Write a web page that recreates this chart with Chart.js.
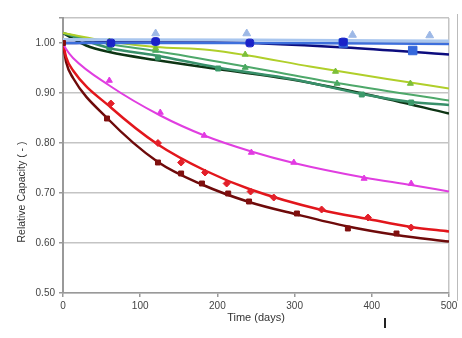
<!DOCTYPE html>
<html>
<head>
<meta charset="utf-8">
<script src="https://cdn.jsdelivr.net/npm/chart.js@4.4.0/dist/chart.umd.min.js"></script>
<style>
  body { margin: 0; background: #fff; }
  #wrap { position: relative; width: 462px; height: 338px; }
  #edge { position: absolute; left: 457px; top: 14px; width: 1px; height: 287px; background: #bbb; }
  #mark { position: absolute; left: 384px; top: 318px; width: 2px; height: 10px; background: #222; }
</style>
</head>
<body>
<div id="wrap">
  <canvas id="lineChart" width="462" height="338"></canvas>
  <div id="edge"></div>
  <div id="mark"></div>
</div>
<script>
const CHART = document.getElementById("lineChart");

// axis
var xTicks = [0, 100, 200, 300, 400, 500];
var yTicks = [0.5, 0.6, 0.7, 0.8, 0.9, 1.0];

// measured points
var darkRedDays = [0, 57, 123, 153, 180, 214, 241, 303, 369, 432];
var darkRedVals = [1.0, 0.849, 0.761, 0.739, 0.719, 0.699, 0.683, 0.659, 0.629, 0.619];
var redDays = [62, 123, 153, 184, 212, 243, 273, 335, 395, 451];
var redVals = [0.879, 0.80, 0.761, 0.741, 0.719, 0.703, 0.691, 0.667, 0.651, 0.631];
var magentaDays = [60, 126, 183, 244, 299, 390, 451];
var magentaVals = [0.925, 0.861, 0.815, 0.781, 0.761, 0.729, 0.719];
var yellowDays = [60, 120, 236, 353, 450];
var yellowVals = [1.003, 0.99, 0.977, 0.943, 0.919];
var greenDays = [60, 120, 236, 355];
var greenVals = [1.0, 0.985, 0.951, 0.919];
var tealDays = [60, 123, 201, 387, 451];
var tealVals = [0.99, 0.971, 0.949, 0.897, 0.881];
var navyDays = [62, 120, 242, 363];
var navyVals = [1.0, 1.003, 1.0, 1.002];
var blueDays = [363, 453];
var blueVals = [1.0, 0.985];
var lightDays = [120, 238, 375, 475];
var lightVals = [1.019, 1.019, 1.016, 1.015];

// fitted curves
var darkRedFitDays = [0, 4, 13, 57, 123, 180, 241, 303, 369, 432, 500];
var darkRedFitVals = [1.0, 0.962, 0.93, 0.85, 0.762, 0.717, 0.682, 0.657, 0.633, 0.616, 0.603];
var redFitDays = [0, 4, 13, 62, 123, 184, 243, 335, 395, 451, 500];
var redFitVals = [1.0, 0.972, 0.945, 0.871, 0.797, 0.745, 0.707, 0.666, 0.648, 0.632, 0.623];
var magentaFitDays = [0, 4, 13, 60, 126, 183, 244, 299, 390, 451, 500];
var magentaFitVals = [1.0, 0.988, 0.97, 0.915, 0.855, 0.815, 0.783, 0.76, 0.731, 0.716, 0.703];
var yellowFitDays = [0, 60, 120, 190, 240, 320, 420, 500];
var yellowFitVals = [1.02, 1.003, 0.992, 0.986, 0.975, 0.953, 0.928, 0.909];
var greenFitDays = [0, 60, 120, 240, 355, 500];
var greenFitVals = [1.02, 0.998, 0.984, 0.952, 0.92, 0.885];
var tealFitDays = [0, 60, 120, 200, 300, 387, 451, 500];
var tealFitVals = [1.02, 0.99, 0.975, 0.951, 0.927, 0.898, 0.882, 0.876];
var darkFitDays = [0, 30, 60, 120, 200, 300, 400, 500];
var darkFitVals = [1.02, 0.995, 0.982, 0.966, 0.948, 0.926, 0.895, 0.859];
var navyFitDays = [0, 120, 240, 365, 500];
var navyFitVals = [1.0, 1.003, 1.0, 0.991, 0.977];
var blueFitDays = [0, 250, 500];
var blueFitVals = [1.0, 1.0, 0.998];
var lightFitDays = [0, 250, 500];
var lightFitVals = [1.007, 1.006, 1.004];

function pts(xs, ys) {
  return xs.map(function(x, i) { return {x: x, y: ys[i]}; });
}

function markers(xs, ys, color, style, r) {
  return {
    data: pts(xs, ys), showLine: false, order: 0,
    pointStyle: style, pointRadius: r,
    pointBackgroundColor: color, pointBorderColor: color, pointBorderWidth: 1
  };
}

function fit(xs, ys, color, w) {
  return {
    data: pts(xs, ys), showLine: true, order: 1,
    borderColor: color, borderWidth: w, pointRadius: 0,
    cubicInterpolationMode: 'monotone', fill: false
  };
}

// rotated y title, placed where the original has it
var yTitle = {
  id: 'yTitle',
  afterDraw: function(chart) {
    var c = chart.ctx;
    c.save();
    c.translate(22, 192);
    c.rotate(-Math.PI / 2);
    c.font = '10.5px "Liberation Sans", Arial, sans-serif';
    c.fillStyle = '#333';
    c.textAlign = 'center';
    c.textBaseline = 'middle';
    c.fillText('Relative Capacity ( - )', 0, 0);
    c.restore();
  }
};

Chart.defaults.font.family = '"Liberation Sans", Arial, sans-serif';
Chart.defaults.color = '#444';

let lineChart = new Chart(CHART, {
  type: 'scatter',
  data: {
    datasets: [
      markers(lightDays, lightVals, '#9db8e6', 'triangle', 4.5),
      markers(navyDays, navyVals, '#1a22c8', 'rectRounded', 4.5),
      markers(blueDays, blueVals, '#3568dc', 'rect', 6),
      markers(yellowDays, yellowVals, '#7cbf3a', 'triangle', 3.5),
      markers(greenDays, greenVals, '#4aa860', 'triangle', 3.5),
      markers(tealDays, tealVals, '#3c9a6a', 'rect', 3.5),
      markers(magentaDays, magentaVals, '#e23ae2', 'triangle', 3.5),
      markers(redDays, redVals, '#e3202a', 'rectRot', 3.5),
      markers(darkRedDays, darkRedVals, '#80100f', 'rect', 3.5),
      fit(lightFitDays, lightFitVals, '#a9c6ee', 3),
      fit(blueFitDays, blueFitVals, '#3d6fdc', 2.5),
      fit(navyFitDays, navyFitVals, '#0c0c7e', 2.5),
      fit(yellowFitDays, yellowFitVals, '#b0cf2a', 2),
      fit(greenFitDays, greenFitVals, '#4ea86a', 2),
      fit(tealFitDays, tealFitVals, '#38906a', 2.5),
      fit(darkFitDays, darkFitVals, '#0d3414', 2.5),
      fit(magentaFitDays, magentaFitVals, '#e03ee0', 2),
      fit(redFitDays, redFitVals, '#e2161c', 2.5),
      fit(darkRedFitDays, darkRedFitVals, '#6e0a0a', 2.5)
    ]
  },
  options: {
    responsive: false,
    animation: false,
    layout: { padding: { left: 0, top: 18, right: 13, bottom: 13 } },
    plugins: { legend: { display: false }, tooltip: { enabled: false } },
    scales: {
      x: {
        type: 'linear', min: 0, max: 500,
        afterBuildTicks: function(s) { s.ticks = xTicks.map(function(v) { return {value: v}; }); },
        afterFit: function(s) { s.height = 32; },
        ticks: { font: { size: 10 }, color: '#444', padding: 3, maxRotation: 0 },
        grid: {
          color: function(ctx) { return ctx.tick && ctx.tick.value === 500 ? '#c4c4c4' : 'rgba(0,0,0,0)'; },
          lineWidth: 1.5, tickLength: 4, tickColor: '#999'
        },
        border: { color: '#999', width: 1.5 },
        title: { display: true, text: 'Time (days)', font: { size: 11 }, color: '#333', padding: 0 }
      },
      y: {
        min: 0.5, max: 1.05,
        afterBuildTicks: function(s) {
          s.ticks = yTicks.concat([1.05]).map(function(v) { return {value: v}; });
        },
        afterFit: function(s) { s.width = 63; },
        ticks: {
          font: { size: 10 }, color: '#444', padding: 4,
          callback: function(v) { return v > 1.01 ? '' : v.toFixed(2); }
        },
        grid: { color: '#c4c4c4', lineWidth: 1.5, tickLength: 4, tickColor: '#999' },
        border: { color: '#999', width: 2 }
      }
    }
  },
  plugins: [yTitle]
});
</script>
</body>
</html>
